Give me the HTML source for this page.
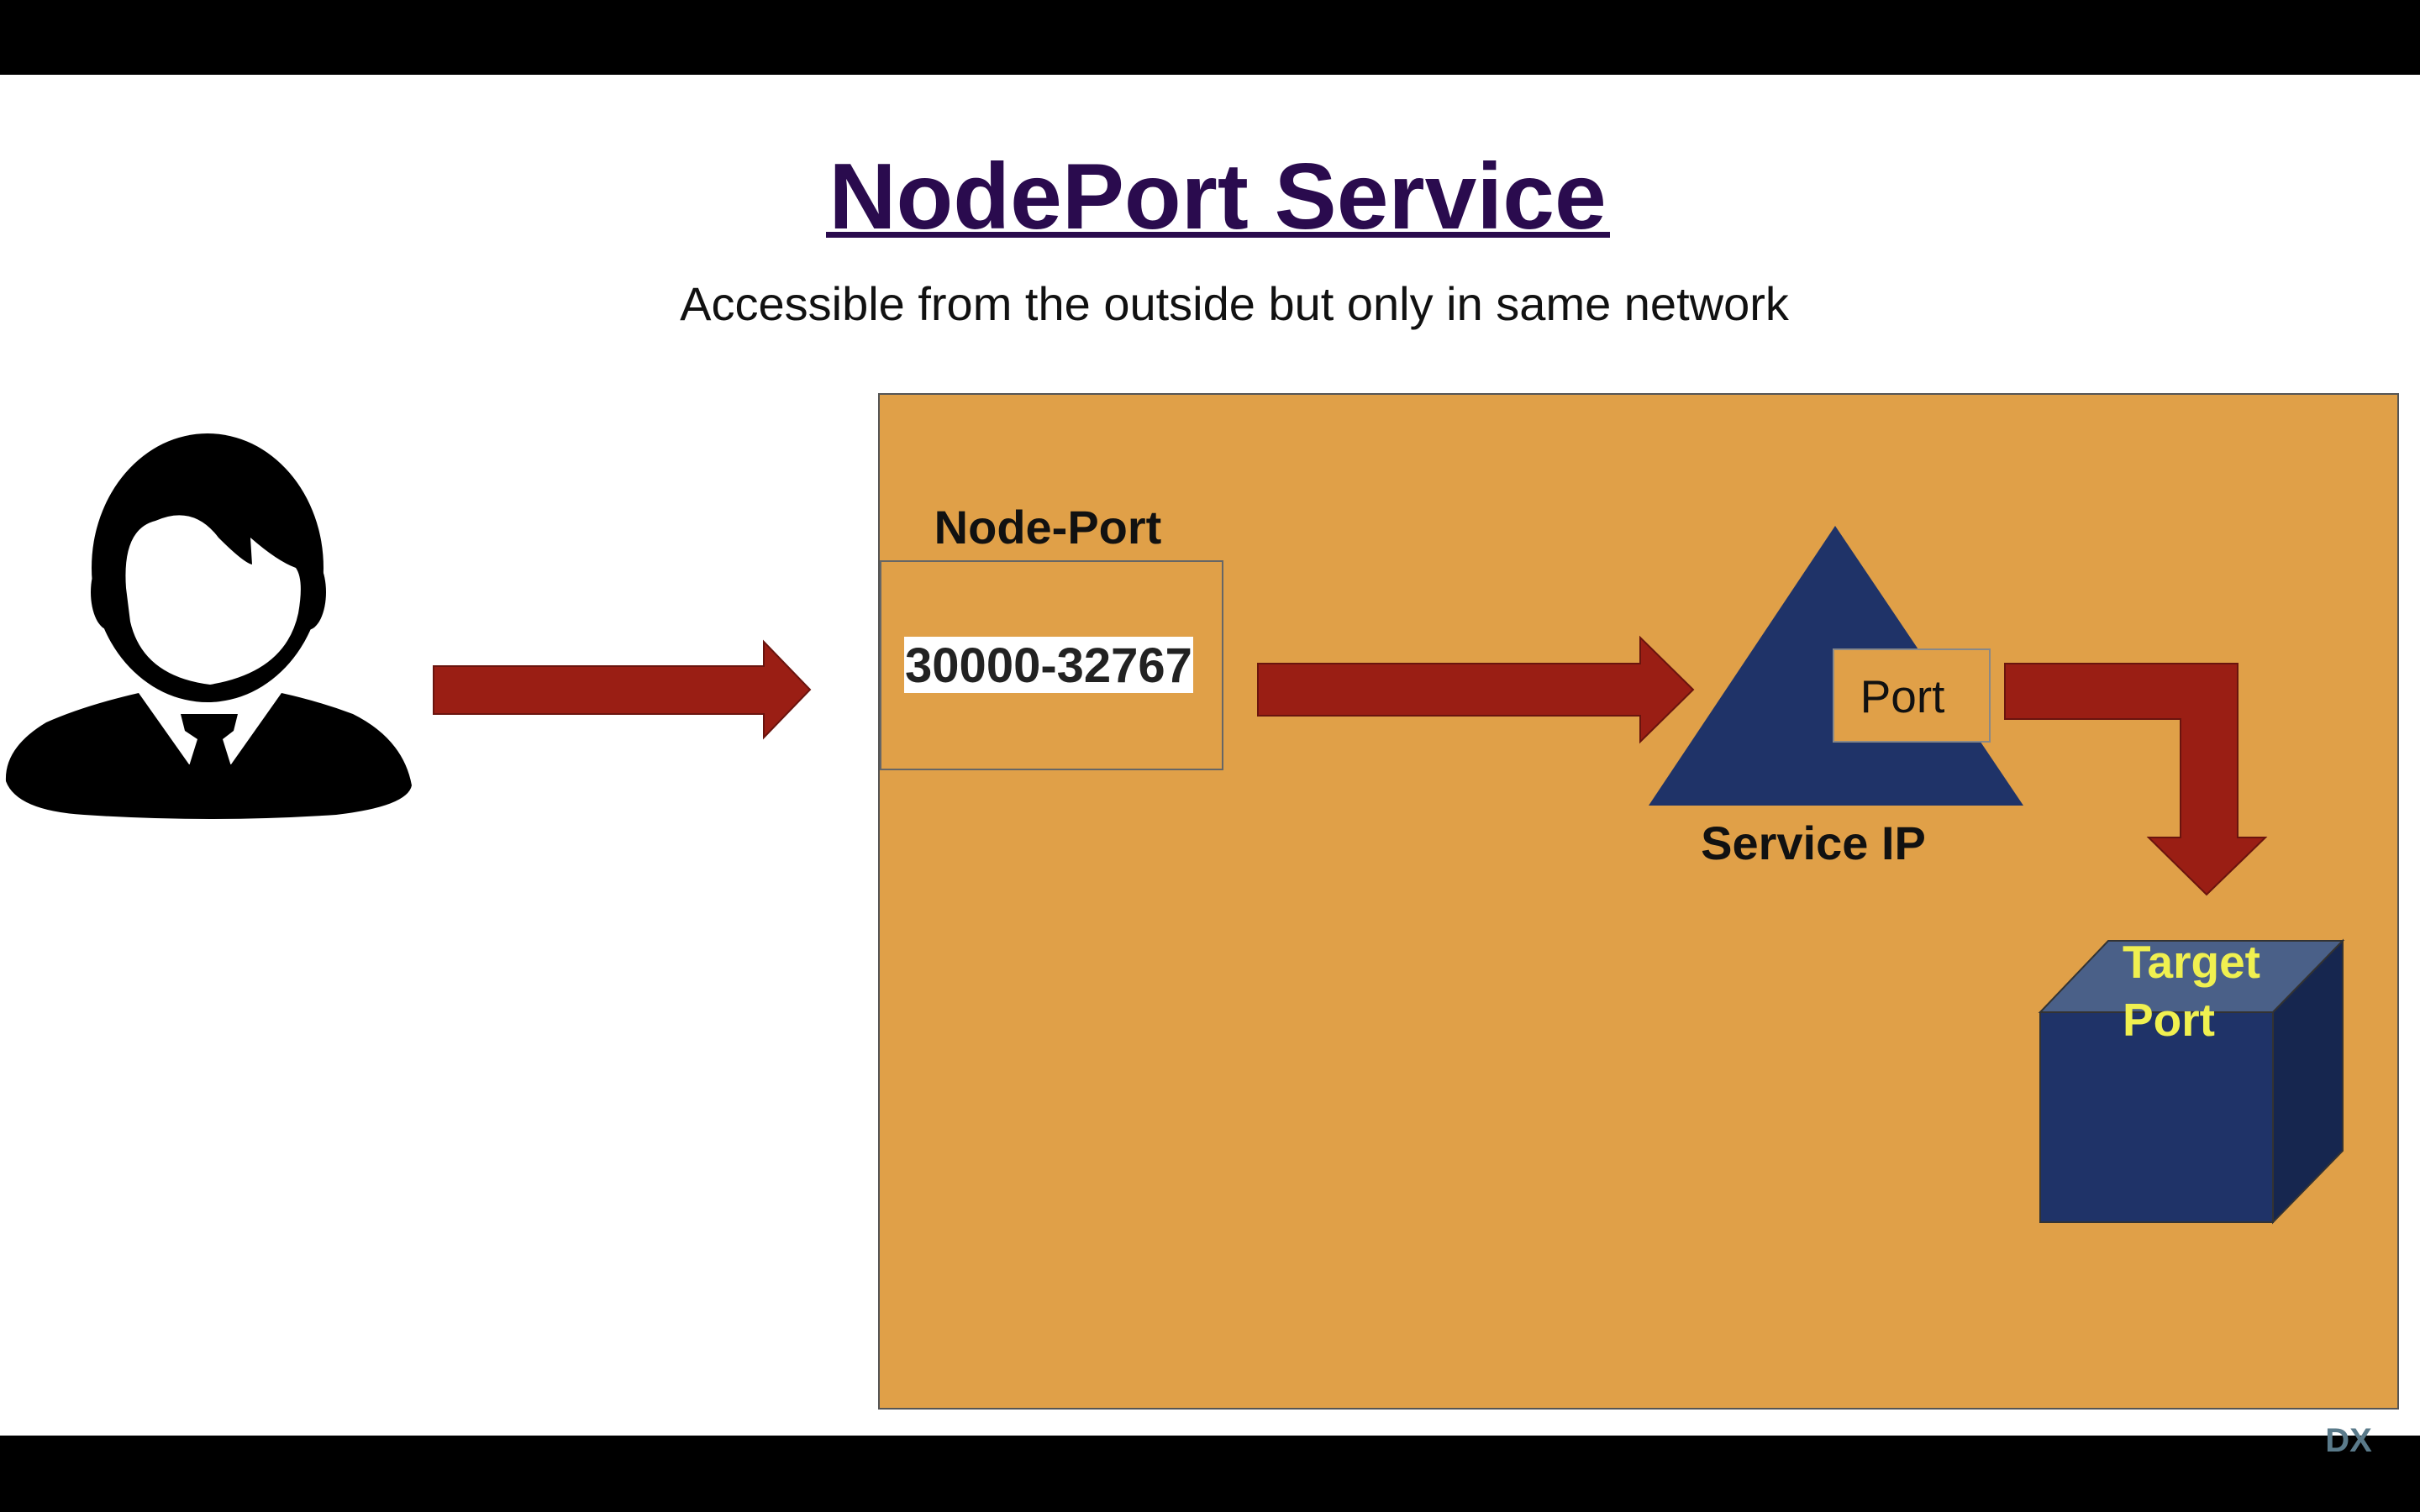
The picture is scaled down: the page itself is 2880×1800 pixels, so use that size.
<!DOCTYPE html>
<html><head><style>
html,body{margin:0;padding:0;width:2880px;height:1800px;overflow:hidden;background:#fff;font-family:"Liberation Sans",sans-serif;}
</style></head><body>
<svg width="2880" height="1800" viewBox="0 0 2880 1800" xmlns="http://www.w3.org/2000/svg" style="position:absolute;left:0;top:0">
<rect x="0" y="0" width="2880" height="89" fill="#000"/>
<rect x="0" y="1709" width="2880" height="91" fill="#000"/>
<text x="1449" y="272" text-anchor="middle" font-family="Liberation Sans" font-weight="bold" font-size="111" fill="#2a0b4e">NodePort Service</text>
<rect x="983" y="276" width="933" height="7" fill="#2a0b4e"/>
<text x="1469" y="381" text-anchor="middle" font-family="Liberation Sans" font-size="56" fill="#111">Accessible from the outside but only in same network</text>

<!-- person -->
<ellipse cx="247" cy="676" rx="138" ry="160" fill="#000"/>
<ellipse cx="130" cy="705" rx="22" ry="45" fill="#000"/>
<ellipse cx="366" cy="705" rx="22" ry="45" fill="#000"/>
<path d="M150,700 Q145,630 185,620 Q230,600 260,640 Q290,670 300,672 L298,640 Q330,668 352,676 Q362,690 355,730 Q340,800 250,815 Q170,805 155,740 Z" fill="#fff"/>
<path d="M165,825 Q100,840 55,860 Q5,890 7,930 Q20,965 100,970 Q250,980 400,970 Q485,960 490,935 Q480,880 420,850 Q380,835 335,825 L275,910 L225,910 Z" fill="#000"/>
<path d="M215,850 L283,850 L278,870 L265,880 L275,912 L225,912 L235,880 L220,870 Z" fill="#000"/>

<!-- arrow 1 -->
<polygon points="516,793 909,793 909,764 964,821 909,878 909,850 516,850" fill="#9a1e14" stroke="#6a140e" stroke-width="2"/>

<!-- orange box -->
<rect x="1046" y="469" width="1808" height="1208" fill="#e0a048" stroke="#555" stroke-width="2"/>
<text x="1247" y="647" text-anchor="middle" font-family="Liberation Sans" font-weight="bold" font-size="56" fill="#111">Node-Port</text>
<rect x="1048" y="668" width="407" height="248" fill="none" stroke="#666" stroke-width="2"/>
<rect x="1076" y="758" width="344" height="67" fill="#fff"/>
<text x="1248" y="812" text-anchor="middle" font-family="Liberation Sans" font-weight="bold" font-size="58" fill="#222">30000-32767</text>

<!-- arrow 2 -->
<polygon points="1497,790 1952,790 1952,759 2015,821 1952,883 1952,852 1497,852" fill="#9a1e14" stroke="#6a140e" stroke-width="2"/>

<!-- triangle -->
<polygon points="2184,626 2408,959 1962,959" fill="#1f3368"/>
<rect x="2182" y="773" width="186" height="110" fill="#e0a048" stroke="#888" stroke-width="2"/>
<text x="2264" y="848" text-anchor="middle" font-family="Liberation Sans" font-size="55" fill="#111">Port</text>
<text x="2158" y="1023" text-anchor="middle" font-family="Liberation Sans" font-weight="bold" font-size="56" fill="#111">Service IP</text>

<!-- elbow arrow -->
<polygon points="2386,790 2663,790 2663,997 2696,997 2626,1065 2557,997 2595,997 2595,856 2386,856" fill="#9a1e14" stroke="#6a140e" stroke-width="2"/>

<!-- cube -->
<polygon points="2428,1205 2509,1120 2788,1120 2705,1205" fill="#4a6088" stroke="#333" stroke-width="2"/>
<polygon points="2705,1205 2788,1120 2788,1370 2705,1455" fill="#16264f" stroke="#333" stroke-width="2"/>
<rect x="2428" y="1205" width="277" height="250" fill="#1f3368" stroke="#333" stroke-width="2"/>
<text x="2608" y="1164" text-anchor="middle" font-family="Liberation Sans" font-weight="bold" font-size="55" fill="#f0f050">Target</text>
<text x="2581" y="1233" text-anchor="middle" font-family="Liberation Sans" font-weight="bold" font-size="55" fill="#f0f050">Port</text>

<!-- logo -->
<text x="2795" y="1728" text-anchor="middle" font-family="Liberation Sans" font-weight="bold" font-size="40" fill="#5a7a8a">DX</text>
</svg>
</body></html>
